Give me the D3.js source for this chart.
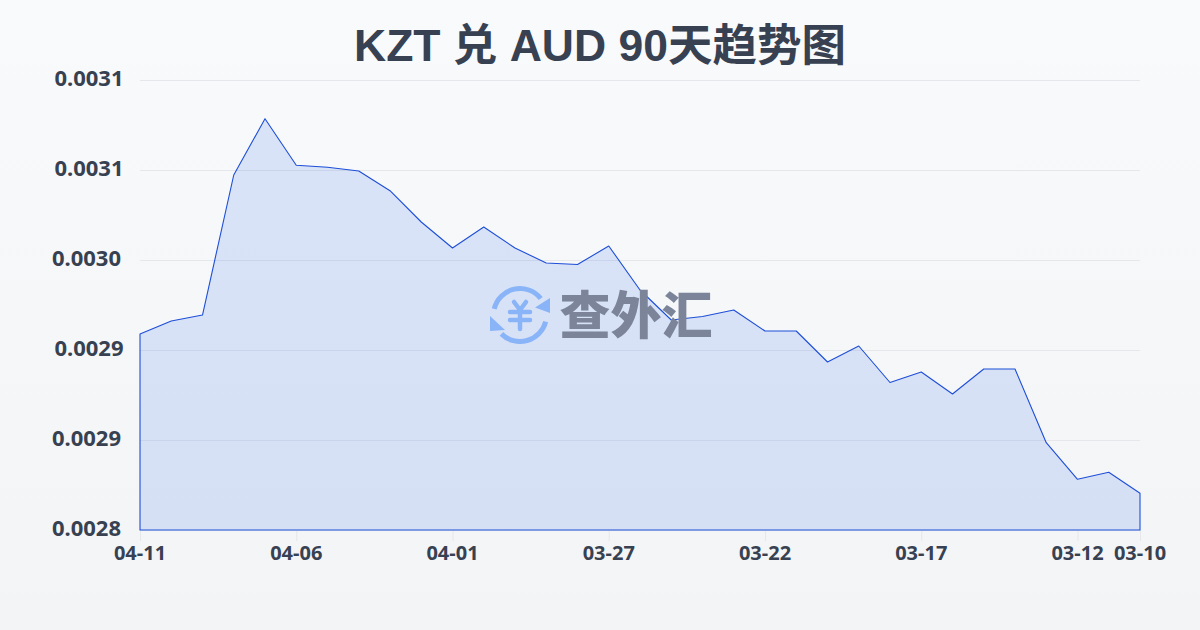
<!DOCTYPE html>
<html><head><meta charset="utf-8">
<script src="https://cdn.jsdelivr.net/npm/d3@7/dist/d3.min.js"></script>
<style>html,body{margin:0;padding:0;background:#f8fafc}svg{display:block}</style>
</head><body><svg id="c" width="1200" height="630"></svg>
<script>
const titleText = "KZT 兑 AUD 90天趋势图";
const dates = ["04-11","04-10","04-09","04-08","04-07","04-06","04-05","04-04","04-03","04-02","04-01","03-31","03-30","03-29","03-28","03-27","03-26","03-25","03-24","03-23","03-22","03-21","03-20","03-19","03-18","03-17","03-16","03-15","03-14","03-13","03-12","03-11","03-10"];
const rates = [0.00295889,0.00296611,0.00296944,0.00304722,0.0030785,0.00305261,0.0030515,0.00304944,0.0030385,0.00302111,0.00300667,0.00301833,0.00300667,0.00299833,0.0029975,0.00300778,0.00298333,0.00296667,0.00296861,0.00297222,0.00296056,0.00296056,0.00294333,0.00295222,0.00293194,0.00293778,0.00292556,0.00293944,0.00293944,0.0028985,0.00287817,0.00288206,0.00287039];
const yTickValues = [0.00285,0.0029,0.00295,0.003,0.00305,0.0031];
const yTickLabels = ["0.0028","0.0029","0.0029","0.0030","0.0031","0.0031"];
const xTickDates = ["04-11","04-06","04-01","03-27","03-22","03-17","03-12","03-10"];

const svg = d3.select("#c");
const defs = svg.append("defs");
const bg = defs.append("linearGradient").attr("id","bg").attr("x1",0).attr("y1",0).attr("x2",0).attr("y2",1);
bg.append("stop").attr("offset","0%").attr("stop-color","#f8fafc");
bg.append("stop").attr("offset","100%").attr("stop-color","#f3f4f6");
svg.append("rect").attr("width",1200).attr("height",630).attr("fill","url(#bg)");

const x = d3.scalePoint().domain(dates).range([140,1140]);
const y = d3.scaleLinear().domain([0.00285,0.0031]).range([530,80]);
const latin = "'Noto Sans','Noto Sans CJK SC',sans-serif";

svg.append("text").attr("x",600).attr("y",60.5).attr("text-anchor","middle")
  .attr("font-family","'Liberation Sans','Noto Sans CJK SC',sans-serif").attr("font-weight",700)
  .attr("font-size",44.5).attr("fill","#374151").text(titleText);

svg.append("g").selectAll("line").data(yTickValues).join("line")
  .attr("x1",140).attr("x2",1140).attr("y1",d=>y(d)+.5).attr("y2",d=>y(d)+.5)
  .attr("stroke","#e5e7eb").attr("stroke-width",1);

const yLabelShift = [-2.5,-2.5,0,-2.5,0,0];
svg.append("g").selectAll("text").data(yTickValues).join("text")
  .attr("x",(d,i)=>123.5+yLabelShift[i]).attr("y",d=>y(d)-2).attr("dy","0.35em").attr("text-anchor","end")
  .attr("font-family",latin).attr("font-weight",700).attr("font-size",22).attr("fill","#374151")
  .text((d,i)=>yTickLabels[i]);

svg.append("g").selectAll("line").data(xTickDates).join("line")
  .attr("x1",d=>x(d)+.5).attr("x2",d=>x(d)+.5).attr("y1",530).attr("y2",541)
  .attr("stroke","#e5e7eb");
svg.append("g").selectAll("text").data(xTickDates).join("text")
  .attr("x",d=>x(d)).attr("y",560).attr("text-anchor","middle")
  .attr("font-family",latin).attr("font-weight",700).attr("font-size",20).attr("fill","#374151").text(d=>d);

const area = d3.area().x((d,i)=>x(dates[i])).y0(530).y1(d=>y(d));
svg.append("path").datum(rates).attr("d",area).attr("fill","rgba(37,99,235,0.14)")
  .attr("stroke","#1d4ed8").attr("stroke-width",1.1).attr("stroke-linejoin","round");

// watermark
const wm = svg.append("g").attr("transform","translate(520,315)");
const arc = d3.arc().innerRadius(24).outerRadius(29);
const wmBlue = "#8ab4f8";
wm.append("path").attr("d",arc({startAngle:-1.34,endAngle:0.9})).attr("fill",wmBlue);
wm.append("path").attr("d",arc({startAngle:1.82,endAngle:3.92})).attr("fill",wmBlue);
wm.append("path").attr("d",d3.line()([[30,-17],[30,-2],[15,-7.5]])+"Z").attr("fill",wmBlue);
wm.append("path").attr("d",d3.line()([[-30,1],[-30,16],[-15,15]])+"Z").attr("fill",wmBlue);
const yen = [[[-6,-13],[0,-5]],[[6,-13],[0,-5]],[[-10,-3],[10,-3]],[[-10,5],[10,5]],[[0,-5],[0,14]]];
wm.append("g").selectAll("path").data(yen).join("path").attr("d",d=>d3.line()(d))
  .attr("stroke",wmBlue).attr("stroke-width",4.5).attr("stroke-linecap","round").attr("fill","none");
svg.append("text").attr("x",636).attr("y",334).attr("text-anchor","middle")
  .attr("font-family","'Noto Sans CJK SC',sans-serif").attr("font-weight",900).attr("font-size",51)
  .attr("fill","#7b8499").text("查外汇");
</script></body></html>
